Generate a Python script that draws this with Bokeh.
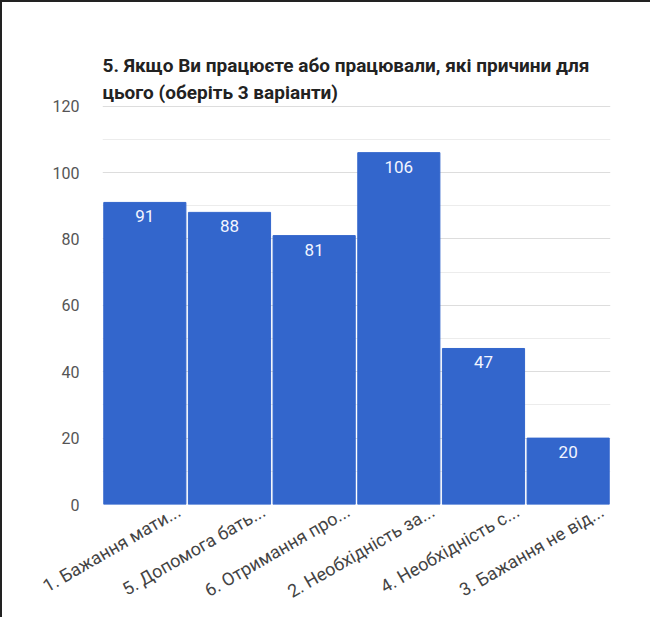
import math
from bokeh.plotting import figure
from bokeh.core.properties import value
from bokeh.models import (ColumnDataSource, LabelSet, Title, Range1d, FixedTicker)
from bokeh.embed import file_html
from bokeh.resources import INLINE

title_lines = ["5. Якщо Ви працюєте або працювали, які причини для",
               "цього (оберіть 3 варіанти)"]
categories = ["1. Бажання мати...", "5. Допомога бать...", "6. Отримання про...",
              "2. Необхідність за...", "4. Необхідність с...", "3. Бажання не від..."]
counts = [91, 88, 81, 106, 47, 20]
y_ticks = [0, 20, 40, 60, 80, 100, 120]
y_minor = [10, 30, 50, 70, 90, 110]

FONT = "Roboto"
BAR = "#3366cc"
W, H = 650, 617
BL, BR, BT, BB = 100, 42, 102, 115

n = len(categories)
pos = [i + 0.5 for i in range(n)]  # slot centre of each category
src = ColumnDataSource(dict(x=pos, cat=categories, val=counts,
                            lab=[str(v) for v in counts]))

p = figure(x_range=Range1d(0, n), y_range=Range1d(0, 120.5),
           width=W, height=H, output_backend="svg", toolbar_location=None,
           title=None, min_border_left=BL, min_border_right=BR,
           min_border_top=BT, min_border_bottom=BB)
p.styles = {"border-left": "2px solid #222", "border-top": "2px solid #222"}

p.vbar(x="x", top="val", width=0.97, color=BAR, source=src)

p.outline_line_color = None
p.xgrid.grid_line_color = None
p.ygrid.grid_line_color = "#dddddd"
p.ygrid.minor_grid_line_color = "#ececec"

p.yaxis.ticker = FixedTicker(ticks=y_ticks, minor_ticks=y_minor)
p.yaxis.axis_line_color = None
p.yaxis.major_tick_line_color = None
p.yaxis.minor_tick_line_color = None
p.yaxis.major_label_text_color = "#555555"
p.yaxis.major_label_text_font = FONT
p.yaxis.major_label_text_font_size = "16px"
p.yaxis.major_label_standoff = 17

# category labels: rotated, ending a little right of each bar centre (as in the source)
frame_w = W - BL - BR
shift = 34 * n / frame_w
lab_ticks = [x + shift for x in pos]
ax = p.xaxis[0]
ax.ticker = FixedTicker(ticks=lab_ticks, minor_ticks=[])
ax.major_label_overrides = {t: c for t, c in zip(lab_ticks, categories)}
ax.major_label_orientation = math.pi / 6
ax.axis_line_color = None
ax.major_tick_line_color = None
ax.minor_tick_line_color = None
ax.major_tick_out = 0
ax.major_tick_in = 0
ax.major_label_standoff = 5
ax.major_label_text_color = "#444444"
ax.major_label_text_font = FONT
ax.major_label_text_font_size = "18px"

vals = LabelSet(x="x", y="val", text="lab", source=src, text_align="center",
                text_baseline="top", y_offset=-8, text_color="#f2f5ff",
                text_font=value(FONT), text_font_size="17px")
p.add_layout(vals)

# invisible spacer between the frame and the two title lines
p.add_layout(Title(text=".", standoff=42, text_font_size="1px",
                   text_color=None), "above")
p.add_layout(Title(text=title_lines[1], align="left", standoff=2,
                   text_color="#222222", text_font=FONT, text_font_style="bold",
                   text_font_size="19px"), "above")
p.add_layout(Title(text=title_lines[0], align="left", standoff=2,
                   text_color="#222222", text_font=FONT, text_font_style="bold",
                   text_font_size="19px"), "above")

open("out.html", "w").write(file_html(p, INLINE))
